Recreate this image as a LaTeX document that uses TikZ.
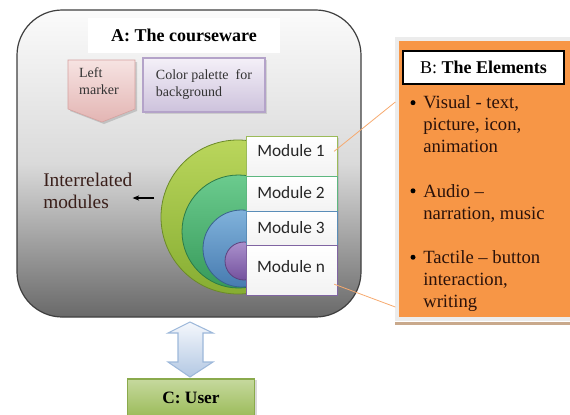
\documentclass[tikz,border=0pt]{standalone}
\usepackage{fontspec}
\setmainfont{Liberation Serif}
\newfontfamily\modfont{Carlito}
\usetikzlibrary{positioning}
\usetikzlibrary{calc}
\usetikzlibrary{arrows.meta}
\usetikzlibrary{shadows}

\definecolor{coursetop}{HTML}{FBFBFB}
\definecolor{coursemid}{HTML}{DADADA}
\definecolor{coursebot}{HTML}{696969}
\definecolor{courseline}{HTML}{3F3F3F}
\definecolor{marktop}{HTML}{F6E3E2}
\definecolor{markbot}{HTML}{E3B5B3}
\definecolor{markline}{HTML}{D5A09E}
\definecolor{paltop}{HTML}{F4F0F8}
\definecolor{palbot}{HTML}{CDC2DC}
\definecolor{palline}{HTML}{B4A3C9}
\definecolor{ringatop}{HTML}{BAD65C}
\definecolor{ringabot}{HTML}{86AD32}
\definecolor{ringbtop}{HTML}{6BCB8E}
\definecolor{ringbbot}{HTML}{379A5A}
\definecolor{ringctop}{HTML}{80B2DB}
\definecolor{ringcbot}{HTML}{477BB0}
\definecolor{ringdtop}{HTML}{AA90CC}
\definecolor{ringdbot}{HTML}{74529E}
\definecolor{mod1}{HTML}{9BBB59}
\definecolor{mod2}{HTML}{5DB77F}
\definecolor{mod3}{HTML}{5A8DB8}
\definecolor{modn}{HTML}{8064A2}
\definecolor{elemorange}{HTML}{F79646}
\definecolor{elemframe}{HTML}{ECECEC}
\definecolor{elemshadow}{HTML}{C9A98C}
\definecolor{leaderline}{HTML}{F6A96E}
\definecolor{itemtext}{HTML}{2B120A}
\definecolor{labeltext}{HTML}{3A1F1A}
\definecolor{linktop}{HTML}{F4F7FC}
\definecolor{linkbot}{HTML}{B3C8E3}
\definecolor{linkline}{HTML}{9DB8DA}
\definecolor{usertop}{HTML}{C6D99E}
\definecolor{userbot}{HTML}{9BBB59}
\definecolor{userline}{HTML}{8AAA4C}

\begin{document}
\begin{tikzpicture}[x=0.75pt,y=-0.75pt,
    course/.style={draw=courseline,line width=0.9pt,rounded corners=34pt,
      top color=coursetop,bottom color=coursebot,middle color=coursemid},
    smallbox/.style={font=\fontsize{10.5}{12.75}\selectfont,align=left,text=black!80},
    ring/.style={line width=0.6pt},
    modbox/.style={line width=0.9pt,top color=white,bottom color=gray!10,
      minimum width=68.25pt,inner sep=0pt,anchor=north west,
      drop shadow={opacity=0.25,shadow xshift=1pt,shadow yshift=-1pt}},
    modlabel/.style={font=\modfont\fontsize{13}{15}\selectfont,text=black!85},
    item/.style={font=\fontsize{14}{16.5}\selectfont,text=itemtext,align=left,
      anchor=west,inner sep=0pt},
    leader/.style={draw=leaderline,line width=0.6pt}]

    % Define the page
    \useasboundingbox (0,0) rectangle (570,414);

    % A: the courseware
    \node[course,minimum width=258pt,minimum height=230.25pt] (course) at (189,163.5) {};
    \node[fill=white,minimum width=144pt,minimum height=26.25pt,
      font=\fontsize{13.5}{16}\selectfont\bfseries] (atitle) at (184,35.5) {A: The courseware};

    % Left marker and colour palette
    \fill[black,opacity=0.15] (70,62) -- (137,62) -- (137,111) -- (104,124) -- (70,111) -- cycle;
    \draw[markline,top color=marktop,bottom color=markbot]
      (68,60) -- (135,60) -- (135,109) -- (102,122) -- (68,109) -- cycle;
    \node[smallbox] (leftmark) at (99,81.5) {Left\\marker};
    \node[draw=palline,line width=0.9pt,top color=paltop,bottom color=palbot,
      minimum width=91.5pt,minimum height=40.5pt,smallbox,
      drop shadow={opacity=0.25,shadow xshift=1.5pt,shadow yshift=-1.5pt}]
      (palette) at (204,85) {Color palette\ \ for\\background};

    % Interrelated modules
    \begin{scope}
      \clip (0,0) rectangle (247,414);
      \shade[ring,draw=ringabot!80!black,top color=ringatop,bottom color=ringabot] (238,217) circle (77);
      \shade[ring,draw=ringbbot!80!black,top color=ringbtop,bottom color=ringbbot] (238.5,231.5) circle (56.5);
      \shade[ring,draw=ringcbot!80!black,top color=ringctop,bottom color=ringcbot] (241.5,248.5) circle (38.5);
      \shade[ring,draw=ringdbot!80!black,top color=ringdtop,bottom color=ringdbot] (244,261) circle (19);
    \end{scope}

    \foreach \name/\ytop/\boxh/\ymid/\col/\txt in
      {m1/136/40/151/mod1/1, m2/176/35/193/mod2/2, m3/211/34/228/mod3/3, mn/245/50/267/modn/n}
    {
      \node[modbox,draw=\col,minimum height=\boxh*0.75pt] (\name) at (246,\ytop) {};
      \node[modlabel] (\name t) at (291,\ymid) {Module \txt};
    }

    \node[font=\fontsize{14.5}{16.5}\selectfont,text=labeltext,align=left,
      anchor=west,inner sep=0pt] (interrel) at (43,191) {Interrelated\\modules};
    \coordinate (ringedge) at (154,198);
    \draw[-{Stealth[length=5pt,width=4pt]},line width=0.8pt] (ringedge) -- (interrel.east |- ringedge);

    % B: the elements
    \node[draw=elemframe,line width=2.5pt,fill=elemorange,minimum width=132pt,
      minimum height=210pt] (elems) at (485,179) {};
    \fill[elemshadow] (395,322) rectangle (572,325);
    \node[draw=black,line width=0.8pt,fill=white,minimum width=120.75pt,minimum height=24.75pt,
      font=\fontsize{13.5}{16}\selectfont] (btitle) at (483.5,67.5) {B: \textbf{The Elements}};

    \foreach \name/\ypos/\txt in
      {visual/124.5/{Visual - text,\\picture, icon,\\animation},
       audio/203/{Audio --\\narration, music},
       tactile/281/{Tactile -- button\\interaction,\\writing}}
    {
      \node[item] (\name) at (423,\ypos) {\txt};
      \fill[black] ($(\name.north west)+(-10,7)$) circle (2.5);
    }

    \draw[leader] ([xshift=-3pt,yshift=4pt]m1.east) -- (elems.west |- 0,102);
    \draw[leader] ($(mn.south east)+(-4,-12)$) -- (elems.west |- 0,307);

    % C: the user
    \draw[linkline,line width=0.8pt,top color=linktop,bottom color=linkbot]
      (190,322) -- (213,333) -- (203,333) -- (203,362) -- (213,362) -- (190,377)
      -- (168,362) -- (178,362) -- (178,333) -- (168,333) -- cycle;
    \node[draw=userline,line width=0.8pt,top color=usertop,bottom color=userbot,
      minimum width=95.25pt,minimum height=28.5pt,
      font=\fontsize{13}{16}\selectfont\bfseries,
      drop shadow={opacity=0.3,shadow xshift=1.5pt,shadow yshift=-1pt}] (user) at (191,398) {C: User};
  \end{tikzpicture}
\end{document}
